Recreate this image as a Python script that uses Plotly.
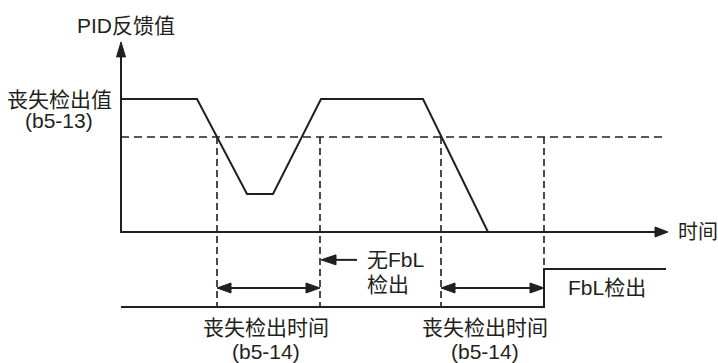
import plotly.graph_objects as go

# ---------------- data ----------------
pid_time = [0, 7.6, 12.6, 15.2, 20.0, 30.2, 36.7]
pid_value = [100, 100, 28.6, 28.6, 100, 100, 0]
threshold = 71.4
loss_start = [9.6, 32.0]          # times where PID falls below the loss level
detect_time = 10.3                # loss detection time (b5-14)
fbl_time = [0, 42.3, 42.3, 54.5]
fbl_state = [0, 0, 1, 1]
time_axis_end = 54.7
pid_axis_top = 142.9

labels_detect = ["丧失检出时间", "(b5-14)"]
label_level = ["丧失检出值", "(b5-13)"]

# ---------------- scales ----------------
W, H = 718, 363
X_RANGE = [-12.1, 59.7]
Y1_RANGE = [-98.5, 174.4]
Y2_RANGE = [-1.474, 8.079]
sx = W / (X_RANGE[1] - X_RANGE[0])
sy1 = H / (Y1_RANGE[1] - Y1_RANGE[0])
sy2 = H / (Y2_RANGE[1] - Y2_RANGE[0])


def y2_to_y1(s):
    pix = (Y2_RANGE[1] - s) * sy2
    return Y1_RANGE[1] - pix / sy1


INK = "#231f20"
FAMILY = "Liberation Sans, Arial, Noto Sans CJK SC, sans-serif"
FONT = dict(family=FAMILY, size=21, color=INK)

fig = go.Figure()


def line(xs, ys, axis="y", dash=None, width=2):
    fig.add_trace(go.Scatter(x=xs, y=ys, yaxis=axis, mode="lines",
                             line=dict(color=INK, width=width, dash=dash),
                             hoverinfo="skip"))


def head(tx, ty, direction, length, half, axis="y"):
    sy = sy1 if axis == "y" else sy2
    if direction == "up":
        xs = [tx, tx - half / sx, tx + half / sx, tx]
        ys = [ty, ty - length / sy, ty - length / sy, ty]
    elif direction == "right":
        xs = [tx, tx - length / sx, tx - length / sx, tx]
        ys = [ty, ty + half / sy, ty - half / sy, ty]
    else:  # left
        xs = [tx, tx + length / sx, tx + length / sx, tx]
        ys = [ty, ty + half / sy, ty - half / sy, ty]
    fig.add_trace(go.Scatter(x=xs, y=ys, yaxis=axis, mode="lines", fill="toself",
                             fillcolor=INK, line=dict(color=INK, width=1),
                             hoverinfo="skip"))


# threshold (dashed)
line([0, time_axis_end - 0.3], [threshold, threshold], dash="8px,5px", width=1.6)

# dashed verticals
low_v = y2_to_y1(0)
for t0 in loss_start:
    for t in (t0, t0 + detect_time):
        line([t, t], [threshold, low_v], dash="7px,4px", width=1.6)

# axes
line([0, 0, time_axis_end - 12 / sx], [pid_axis_top - 14 / sy1, 0, 0])
head(0, pid_axis_top, "up", 15, 4.5)
head(time_axis_end, 0, "right", 13, 5)

# PID signal
line(pid_time, pid_value)

# FbL signal
line(fbl_time, fbl_state, axis="y2")

# double arrows for detection time
arrow_s = 0.5
for t0 in loss_start:
    t1 = t0 + detect_time
    line([t0 + 12 / sx, t1 - 12 / sx], [arrow_s, arrow_s], axis="y2")
    head(t0, arrow_s, "left", 14, 5, axis="y2")
    head(t1, arrow_s, "right", 14, 5, axis="y2")

# "no FbL detect" arrow
t_nofbl = loss_start[0] + detect_time
line([t_nofbl + 12 / sx, 23.6], [1.24, 1.24], axis="y2")
head(t_nofbl + 0.1, 1.24, "left", 15, 5, axis="y2")

# ---------------- text ----------------
ann = []


def text(t, y, s, xanchor="center", axis="y", size=21):
    ann.append(dict(x=t, y=y, xref="x", yref=axis, text=s, showarrow=False,
                    xanchor=xanchor, yanchor="middle",
                    font=dict(family=FAMILY, size=size, color=INK)))


text(0.5, 155.6, "PID反馈值")
text(-0.7, 99.5, label_level[0], xanchor="right")
text(-6.2, 83.5, label_level[1])
text(55.5, 0, "时间", xanchor="left", size=20)
text(24.4, 1.24, "无FbL", xanchor="left", axis="y2")
text(24.4, 0.6, "检出", xanchor="left", axis="y2")
text(44.5, 0.5, "FbL检出", xanchor="left", axis="y2")
for tc in (14.5, 36.4):
    text(tc, -0.55, labels_detect[0], axis="y2")
    text(tc, -1.16, labels_detect[1], axis="y2")

fig.update_layout(
    width=W, height=H, margin=dict(l=0, r=0, t=0, b=0),
    paper_bgcolor="white", plot_bgcolor="white", showlegend=False,
    xaxis=dict(range=X_RANGE, visible=False, fixedrange=True),
    yaxis=dict(range=Y1_RANGE, visible=False, fixedrange=True),
    yaxis2=dict(range=Y2_RANGE, visible=False, overlaying="y", fixedrange=True),
    annotations=ann,
)

fig.write_html("out.html", config={"displayModeBar": False},
               post_script="document.body.style.margin='0px';document.body.style.padding='0px';")
